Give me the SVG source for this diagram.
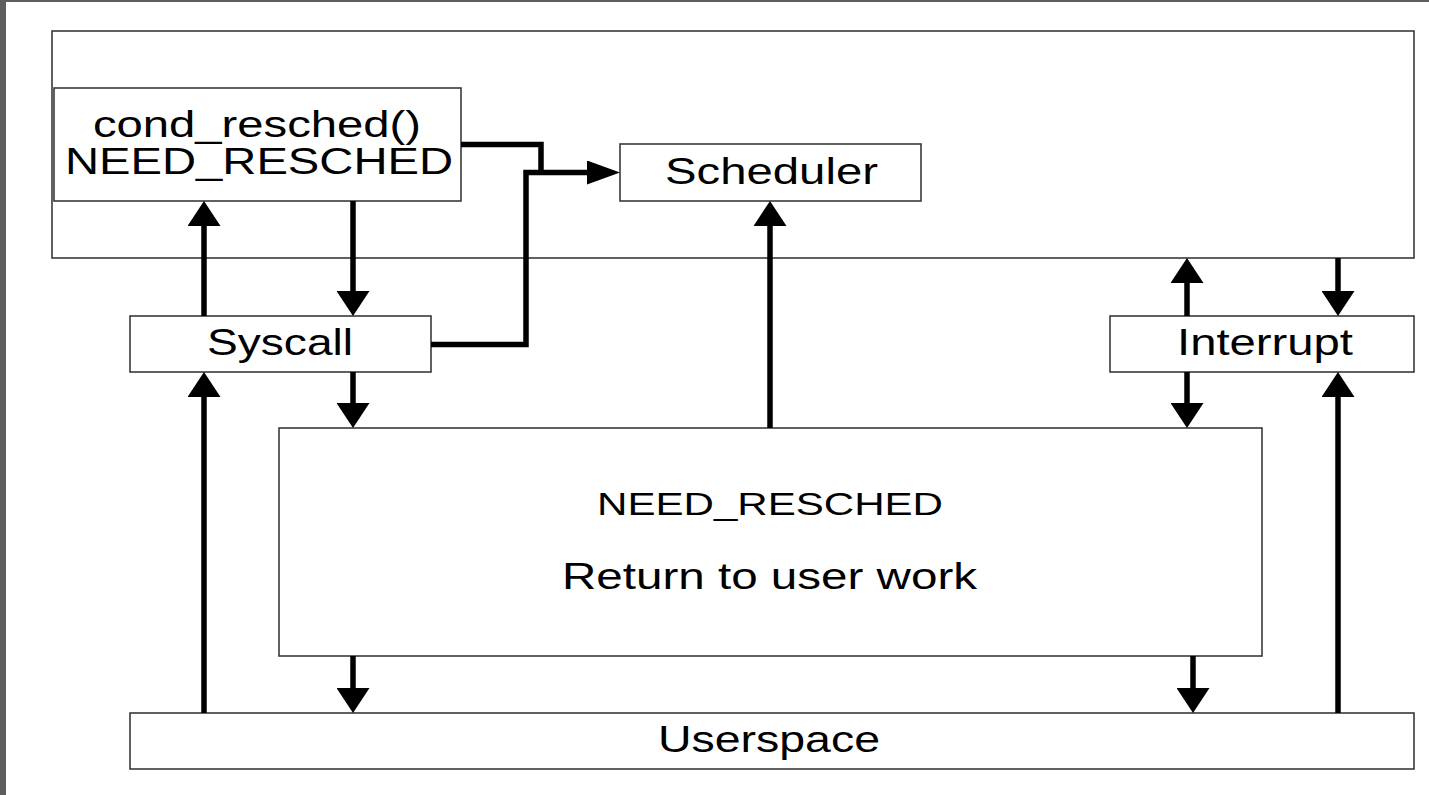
<svg xmlns="http://www.w3.org/2000/svg" width="1429" height="795" viewBox="0 0 1429 795">
  <style>
    .box { fill: #ffffff; stroke: #3a3a3a; stroke-width: 1.6; }
    .lbl { font-family: "Liberation Sans", Arial, sans-serif; font-size: 36px; fill: #000000; text-anchor: middle; }
    .lbl-sm { font-size: 31px; }
    .wire { fill: none; stroke: #000000; stroke-width: 5.5; stroke-linejoin: miter; }
  </style>
  <defs>
    <!-- arrowhead for vertical runs (wider than long) -->
    <marker id="headV" markerUnits="userSpaceOnUse" viewBox="0 0 25 33" refX="0" refY="16.5" markerWidth="25" markerHeight="33" orient="auto">
      <path d="M0,0 L25,16.5 L0,33 Z" fill="#000000"/>
    </marker>
    <!-- arrowhead for horizontal runs (longer than wide) -->
    <marker id="headH" markerUnits="userSpaceOnUse" viewBox="0 0 33 24" refX="0" refY="12" markerWidth="33" markerHeight="24" orient="auto">
      <path d="M0,0 L33,12 L0,24 Z" fill="#000000"/>
    </marker>
  </defs>

  <!-- page background and frame edges -->
  <rect x="0" y="0" width="1429" height="795" fill="#ffffff"/>
  <rect x="0" y="0" width="1429" height="2" fill="#5e5e5e"/>
  <rect x="0" y="0" width="6" height="795" fill="#5e5e5e"/>

  <g id="kernel">
    <rect class="box" x="52" y="31" width="1362" height="227"/>
  </g>

  <g id="cond-resched">
    <rect class="box" x="54" y="88" width="407" height="113"/>
    <text class="lbl" x="257" y="137" textLength="328" lengthAdjust="spacingAndGlyphs">cond_resched()</text>
    <text class="lbl" x="259" y="174" textLength="388" lengthAdjust="spacingAndGlyphs">NEED_RESCHED</text>
  </g>

  <g id="scheduler">
    <rect class="box" x="620" y="144" width="301" height="57"/>
    <text class="lbl" x="771.5" y="184" textLength="213" lengthAdjust="spacingAndGlyphs">Scheduler</text>
  </g>

  <g id="syscall">
    <rect class="box" x="130" y="316" width="301" height="56"/>
    <text class="lbl" x="280" y="355" textLength="146" lengthAdjust="spacingAndGlyphs">Syscall</text>
  </g>

  <g id="interrupt">
    <rect class="box" x="1110" y="316" width="304" height="56"/>
    <text class="lbl" x="1265" y="355" textLength="176" lengthAdjust="spacingAndGlyphs">Interrupt</text>
  </g>

  <g id="return-to-user">
    <rect class="box" x="279" y="428" width="983" height="228"/>
    <text class="lbl lbl-sm" x="770" y="515" textLength="346" lengthAdjust="spacingAndGlyphs">NEED_RESCHED</text>
    <text class="lbl" x="769.5" y="589" textLength="415" lengthAdjust="spacingAndGlyphs">Return to user work</text>
  </g>

  <g id="userspace">
    <rect class="box" x="130" y="713" width="1284" height="56"/>
    <text class="lbl" x="769" y="752" textLength="222" lengthAdjust="spacingAndGlyphs">Userspace</text>
  </g>

  <g id="connectors">
    <!-- paths into the scheduler -->
    <path class="wire" d="M461,144.5 H541 V172.5"/>
    <path class="wire" d="M431,344.5 H526 V172.5 H587" marker-end="url(#headH)"/>

    <!-- syscall path -->
    <path class="wire" d="M204,316 V226" marker-end="url(#headV)"/>
    <path class="wire" d="M353,201 V291" marker-end="url(#headV)"/>
    <path class="wire" d="M353,372 V403" marker-end="url(#headV)"/>
    <path class="wire" d="M204,713 V397" marker-end="url(#headV)"/>

    <!-- return to user work into scheduler -->
    <path class="wire" d="M770,428 V226" marker-end="url(#headV)"/>

    <!-- interrupt path -->
    <path class="wire" d="M1187,316 V283" marker-end="url(#headV)"/>
    <path class="wire" d="M1338,258 V291" marker-end="url(#headV)"/>
    <path class="wire" d="M1187,372 V403" marker-end="url(#headV)"/>
    <path class="wire" d="M1338,713 V397" marker-end="url(#headV)"/>

    <!-- back to userspace -->
    <path class="wire" d="M353,656 V688" marker-end="url(#headV)"/>
    <path class="wire" d="M1193,656 V688" marker-end="url(#headV)"/>
  </g>
</svg>
